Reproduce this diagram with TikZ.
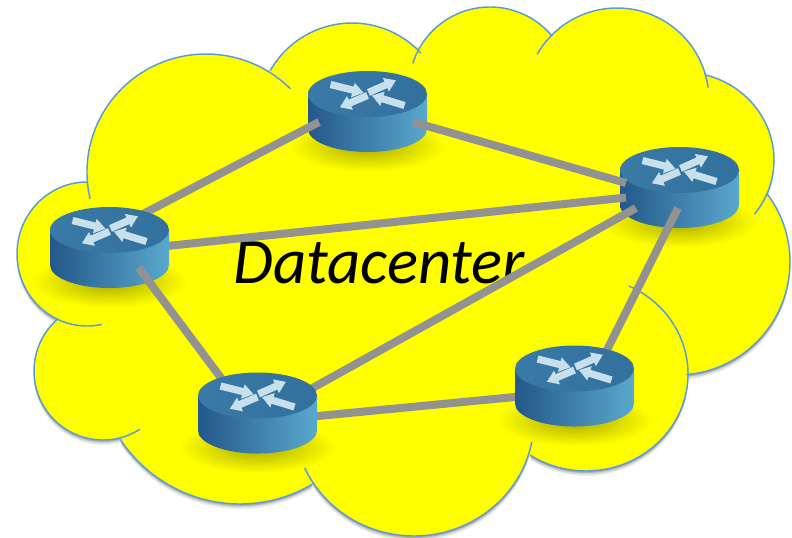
\documentclass[tikz,border=0pt]{standalone}
\usepackage{fontspec}
\setmainfont{Carlito}
\usepackage{xcolor}
\usetikzlibrary{calc}
\definecolor{cloudfill}{HTML}{FFFF00}
\definecolor{cloudshadow}{HTML}{A8A800}
\definecolor{cloudline}{HTML}{5B9BD5}
\definecolor{linkgray}{HTML}{929292}
\definecolor{arrowblue}{HTML}{C8DFEC}
\definecolor{bodyleft}{HTML}{23588A}
\definecolor{bodymid}{HTML}{3C7EAA}
\definecolor{bodyright}{HTML}{5AA8CD}
\definecolor{topleft}{HTML}{3A7AA6}
\definecolor{topright}{HTML}{32709E}
\tikzstyle{router} = [rectangle, minimum width=89.25pt, minimum height=60.75pt, inner sep=0pt]
\tikzstyle{link} = [draw=linkgray, line width=6pt]
\tikzstyle{lobe} = [draw=cloudline, line width=1.1pt, line cap=round]
\newcommand{\routerbody}[1]{
\begin{scope}[shift={(#1)}]
\shade [inner color=cloudshadow, outer color=cloudfill] (0,34) ellipse [x radius=78, y radius=26];
\shade [left color=bodyleft, middle color=bodymid, right color=bodyright]
  (-59.5,-17.5) -- (-59.5,17.5) arc [start angle=180, end angle=0, x radius=59.5, y radius=23] -- (59.5,-17.5) -- cycle;
\shade [left color=topleft, right color=topright] (0,-17.5) ellipse [x radius=59.5, y radius=23];
\begin{scope}[shift={(0,-18)}]
\foreach \ax/\ay/\ang/\len in {-37/-9/-14/34, 1/-1/24/30, 0/2/-157/30, 37/12/163/34} {
  \fill [arrowblue, shift={(\ax,\ay)}, rotate=\ang] (0,-3.6) -- (\len-11,-3.6) -- (\len-11,-7.5) -- (\len,0) -- (\len-11,7.5) -- (\len-11,3.6) -- (0,3.6) -- cycle;
}
\end{scope}
\end{scope}
}
\begin{document}
\begin{tikzpicture}[x=0.75pt, y=-0.75pt]
\useasboundingbox (0,0) rectangle (792,537);

% cloud lobes: centre x/y, radii, start and end angle
\def\lobes{206/172/119/118/167/315, 352/117/94/94/210/317, 490/88/81/81/198/320,
  617/100/92/92/210/352, 682/160/92/88/-75.5/49.5, 677/262/113/113/-37/85,
  586/374/102/97/-65/123, 414/420/120/116/5/158.5, 240/356/145/148/60/145.4,
  103/371/69/69/229/58, 87/254/70/72/270/78}

\foreach \dy/\shadecol in {5/black!7, 3.5/black!16, 2/black!30} {
  \foreach \cx/\cy/\rx/\ry/\ta/\tb in \lobes {
    \fill [\shadecol, shift={(0,\dy)}] ($(\cx,\cy)+(\ta:\rx pt*0.75 and -\ry pt*0.75)$) arc [start angle=\ta, end angle=\tb, x radius=\rx, y radius=\ry] -- cycle;
  }
}
\foreach \cx/\cy/\rx/\ry/\ta/\tb in \lobes {
  \fill [cloudfill] ($(\cx,\cy)+(\ta:\rx pt*0.75 and -\ry pt*0.75)$) arc [start angle=\ta, end angle=\tb, x radius=\rx, y radius=\ry] -- cycle;
}
\fill [cloudfill] (87,183) -- (170,115) -- (270,69) -- (345,45) -- (420,47) -- (486,30) -- (552,36) -- (630,40) -- (705,75) -- (745,125) -- (767,195) -- (740,300) -- (687,374) -- (620,430) -- (530,457) -- (420,490) -- (313,486) -- (215,480) -- (122,439) -- (80,390) -- (57,318) -- (60,250) -- cycle;
\foreach \cx/\cy/\rx/\ry/\ta/\tb in \lobes {
  \draw [lobe] ($(\cx,\cy)+(\ta:\rx pt*0.75 and -\ry pt*0.75)$) arc [start angle=\ta, end angle=\tb, x radius=\rx, y radius=\ry];
}

\node [anchor=base west, inner sep=0pt, font=\itshape\fontsize{48.6}{48}\selectfont] (dc) at (233,283) {Datacenter};

\node [router] (rtop) at (367.5,111.5) {};
\node [router] (rleft) at (109.5,247.5) {};
\node [router] (rright) at (679.5,187.5) {};
\node [router] (rlow) at (257.5,413) {};
\node [router] (rmid) at (574.5,386) {};

\routerbody{rtop}
\routerbody{rright}

\path [link] ($(rtop)+(-48.5,10.5)$) -- ($(rleft)+(0,-16)$);
\path [link] ($(rtop)+(45.5,10.5)$) -- ($(rright)+(-53.5,-4.5)$);
\path [link] ($(rleft)+(50,-0.7)$) -- ($(rright)+(-53.5,10)$);
\path [link] ($(rright)+(-43.5,20.5)$) -- ($(rlow)+(42.5,-18)$);
\path [link] ($(rright)+(-1.5,20.5)$) -- ($(rmid)+(22.5,-16)$);
\path [link] ($(rlow)+(50,4)$) -- ($(rmid)+(-49.5,10)$);

\routerbody{rleft}
\routerbody{rmid}

\path [link] ($(rleft)+(29,20)$) -- ($(rlow)+(-20,-13)$);

\routerbody{rlow}

\end{tikzpicture}
\end{document}
